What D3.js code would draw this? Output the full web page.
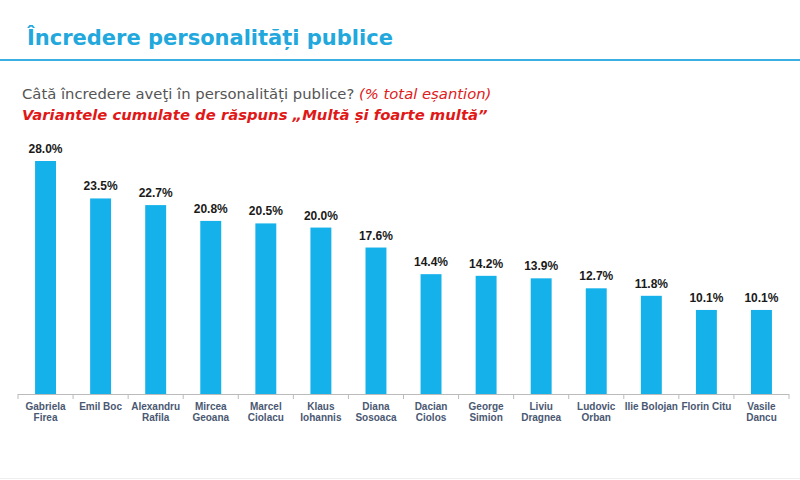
<!DOCTYPE html>
<html><head><meta charset="utf-8">
<script src="https://cdn.jsdelivr.net/npm/d3@7"></script>
<style>body{margin:0;background:#fff;}svg{display:block;}</style>
</head><body>
<svg id="c" width="800" height="480"></svg>
<script>
const categories = [["Gabriela","Firea"],["Emil Boc"],["Alexandru","Rafila"],["Mircea","Geoana"],["Marcel","Ciolacu"],["Klaus","Iohannis"],["Diana","Sosoaca"],["Dacian","Ciolos"],["George","Simion"],["Liviu","Dragnea"],["Ludovic","Orban"],["Ilie Bolojan"],["Florin Citu"],["Vasile","Dancu"]];
const values = [28.0,23.5,22.7,20.8,20.5,20.0,17.6,14.4,14.2,13.9,12.7,11.8,10.1,10.1];
const title = "Încredere personalități publice";
const question = "Câtă încredere aveţi în personalități publice? ";
const questionNote = "(% total eșantion)";
const subtitle = "Variantele cumulate de răspuns „Multă și foarte multă”";

const svg = d3.select("#c");
const font = "Liberation Sans, Arial, sans-serif";
const titleFont = "DejaVu Sans, Verdana, sans-serif";

svg.append("text").attr("x",27).attr("y",45).attr("font-family",titleFont)
  .attr("font-size",21).attr("font-weight","bold").attr("fill","#22a8dc").text(title);
svg.append("line").attr("x1",0).attr("x2",800).attr("y1",60).attr("y2",60)
  .attr("stroke","#3ab0e2").attr("stroke-width",2);

const q = svg.append("text").attr("x",22).attr("y",99).attr("font-family",titleFont).attr("font-size",14.8);
q.append("tspan").attr("fill","#555").text(question);
q.append("tspan").attr("fill","#e02020").attr("font-style","italic").text(questionNote);
svg.append("text").attr("x",22).attr("y",120).attr("font-family",titleFont).attr("font-size",14.8)
  .attr("font-weight","bold").attr("font-style","italic").attr("fill","#e01818").text(subtitle);

const x = d3.scaleBand().domain(d3.range(values.length)).range([18,789]).paddingInner(0.62).paddingOuter(0.31);
const y = d3.scaleLinear().domain([0,28]).range([394,161]);

svg.selectAll("rect.bar").data(values).join("rect").attr("class","bar")
  .attr("x",(d,i)=>x(i)).attr("width",x.bandwidth())
  .attr("y",d=>y(d)).attr("height",d=>y(0)-y(d)).attr("fill","#14b1ea");

svg.selectAll("text.val").data(values).join("text").attr("class","val")
  .attr("x",(d,i)=>x(i)+x.bandwidth()/2).attr("y",d=>y(d)-8)
  .attr("text-anchor","middle").attr("font-family",font).attr("font-size",12)
  .attr("font-weight","bold").attr("fill","#1a1a1a").text(d=>d.toFixed(1)+"%");

// axis
const step = x.step();
svg.append("line").attr("x1",18).attr("x2",789).attr("y1",394.5).attr("y2",394.5).attr("stroke","#bbb").attr("stroke-width",1);
svg.selectAll("line.tick").data(d3.range(values.length+1)).join("line").attr("class","tick")
  .attr("x1",i=>18+i*step).attr("x2",i=>18+i*step).attr("y1",394).attr("y2",399)
  .attr("stroke","#bbb");

const lab = svg.selectAll("text.cat").data(categories).join("text").attr("class","cat")
  .attr("text-anchor","middle").attr("font-family",font).attr("font-size",10)
  .attr("font-weight","bold").attr("fill","#4a5872");
lab.each(function(d,i){
  const t = d3.select(this);
  d.forEach((s,j)=>t.append("tspan").attr("x",x(i)+x.bandwidth()/2).attr("y",410+j*11).text(s));
});
svg.append("line").attr("x1",0).attr("x2",800).attr("y1",478.5).attr("y2",478.5).attr("stroke","#eee");
</script>
</body></html>
